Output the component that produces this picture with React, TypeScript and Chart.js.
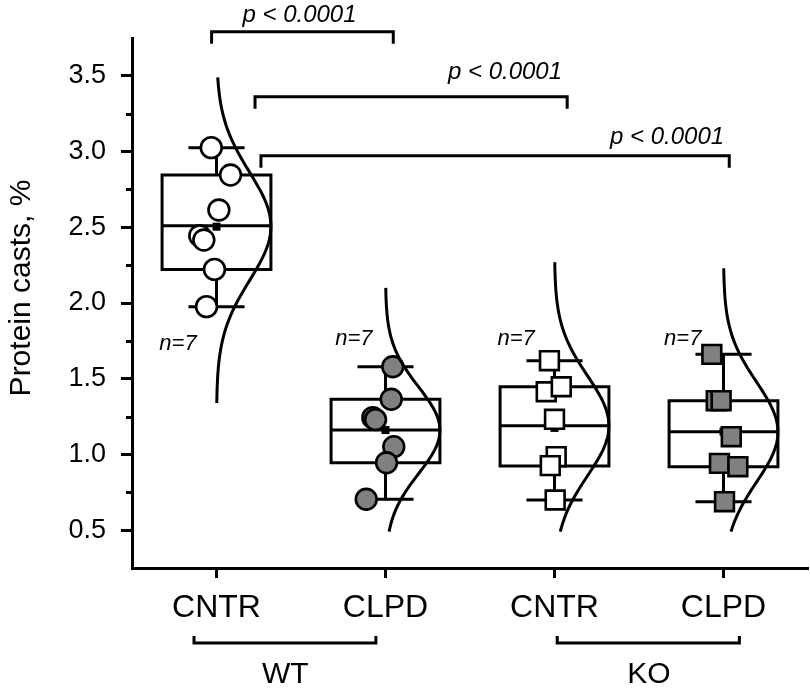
import React, { useEffect, useRef } from "react";
import { Chart, registerables } from "chart.js";

Chart.register(...registerables);

// ---------- data ----------
const CATEGORIES = ["CNTR", "CLPD", "CNTR", "CLPD"];
const GROUPS = ["WT", "KO"];
const Y_TICKS = [0.5, 1.0, 1.5, 2.0, 2.5, 3.0, 3.5];
const Y_MINOR_TICKS = [0.75, 1.25, 1.75, 2.25, 2.75, 3.25];

const WT_CNTR_VALUES = [3.026, 2.845, 2.614, 2.444, 2.416, 2.222, 1.976];
const WT_CNTR_JITTER = [-0.031, 0.083, 0.014, -0.099, -0.075, -0.012, -0.059];
const WT_CLPD_VALUES = [1.579, 1.364, 1.243, 1.23, 1.051, 0.945, 0.704];
const WT_CLPD_JITTER = [0.043, 0.034, -0.075, -0.059, 0.049, 0.006, -0.114];
const KO_CNTR_VALUES = [1.619, 1.414, 1.447, 1.232, 0.985, 0.926, 0.699];
const KO_CNTR_JITTER = [-0.03, -0.049, 0.04, 0.0, 0.01, -0.025, 0.004];
const KO_CLPD_VALUES = [1.661, 1.355, 1.355, 1.117, 0.941, 0.919, 0.688];
const KO_CLPD_JITTER = [-0.069, -0.043, -0.014, 0.046, -0.024, 0.085, 0.006];

const BOX_MIN = [1.976, 0.704, 0.699, 0.688];
const BOX_Q1 = [2.222, 0.945, 0.924, 0.919];
const BOX_MEDIAN = [2.51, 1.161, 1.19, 1.15];
const BOX_Q3 = [2.845, 1.364, 1.447, 1.355];
const BOX_MAX = [3.026, 1.579, 1.619, 1.661];
const BOX_MEAN = [2.504, 1.161, 1.175, 1.15];

const CURVE_LOW = [1.34, 0.49, 0.49, 0.49];
const CURVE_HIGH = [3.49, 2.1, 2.27, 2.23];

const N_LABELS = ["n=7", "n=7", "n=7", "n=7"];
const N_LABEL_X = [0.772, 1.813, 2.773, 3.759];
const N_LABEL_Y = [1.69, 1.72, 1.72, 1.72];

const P_LABELS = ["p < 0.0001", "p < 0.0001", "p < 0.0001"];
const BRACKET_FROM = [0.971, 1.228, 1.263];
const BRACKET_TO = [2.046, 3.075, 4.034];
const BRACKET_Y = [3.792, 3.362, 2.973];
const P_LABEL_X = [1.491, 2.707, 3.666];
const P_LABEL_Y = [3.858, 3.479, 3.05];

const GROUP_FROM = [0.867, 3.016];
const GROUP_TO = [1.943, 4.094];
const GROUP_LABEL_X = [1.407, 3.559];

const Y_TITLE = "Protein casts, %";

// ---------- style ----------
const FONT = "'Liberation Sans', Arial, Helvetica, sans-serif";
const GRAY = "#808080";
const BOX_HALF = 0.322;
const CAP_HALF = 0.166;

const GROUP_SERIES = [
  { values: WT_CNTR_VALUES, jitter: WT_CNTR_JITTER, style: "circle", fill: "#ffffff" },
  { values: WT_CLPD_VALUES, jitter: WT_CLPD_JITTER, style: "circle", fill: GRAY },
  { values: KO_CNTR_VALUES, jitter: KO_CNTR_JITTER, style: "rect", fill: "#ffffff" },
  { values: KO_CLPD_VALUES, jitter: KO_CLPD_JITTER, style: "rect", fill: GRAY },
];

function meanOf(a: number[]) {
  return a.reduce((s, v) => s + v, 0) / a.length;
}
function sdOf(a: number[]) {
  const m = meanOf(a);
  return Math.sqrt(a.reduce((s, v) => s + (v - m) * (v - m), 0) / (a.length - 1));
}

const bgPlugin = {
  id: "bg",
  beforeDraw(chart: any) {
    const { ctx, width, height } = chart;
    ctx.save();
    ctx.fillStyle = "#ffffff";
    ctx.fillRect(0, 0, width, height);
    ctx.restore();
  },
};

const boxPlugin = {
  id: "boxes",
  beforeDatasetsDraw(chart: any) {
    const { ctx } = chart;
    const x = chart.scales.x;
    const y = chart.scales.y;
    ctx.save();
    ctx.strokeStyle = "#000";
    ctx.lineWidth = 3;
    for (let i = 0; i < CATEGORIES.length; i++) {
      const c = i + 1;
      const cx = x.getPixelForValue(c);
      const left = x.getPixelForValue(c - BOX_HALF);
      const right = x.getPixelForValue(c + BOX_HALF);
      const capL = x.getPixelForValue(c - CAP_HALF);
      const capR = x.getPixelForValue(c + CAP_HALF);
      const yMin = y.getPixelForValue(BOX_MIN[i]);
      const yQ1 = y.getPixelForValue(BOX_Q1[i]);
      const yMed = y.getPixelForValue(BOX_MEDIAN[i]);
      const yQ3 = y.getPixelForValue(BOX_Q3[i]);
      const yMax = y.getPixelForValue(BOX_MAX[i]);
      const yMean = y.getPixelForValue(BOX_MEAN[i]);
      ctx.beginPath();
      ctx.moveTo(cx, yMax);
      ctx.lineTo(cx, yQ3);
      ctx.moveTo(cx, yQ1);
      ctx.lineTo(cx, yMin);
      ctx.moveTo(capL, yMax);
      ctx.lineTo(capR, yMax);
      ctx.moveTo(capL, yMin);
      ctx.lineTo(capR, yMin);
      ctx.stroke();
      ctx.beginPath();
      ctx.rect(left, yQ3, right - left, yQ1 - yQ3);
      ctx.stroke();
      ctx.beginPath();
      ctx.moveTo(left, yMed);
      ctx.lineTo(right, yMed);
      ctx.stroke();
      ctx.fillStyle = "#000";
      ctx.fillRect(cx - 4, yMean - 4, 8, 8);
    }
    ctx.restore();
  },
};

const annotationPlugin = {
  id: "annotations",
  afterDatasetsDraw(chart: any) {
    const { ctx, chartArea } = chart;
    const x = chart.scales.x;
    const y = chart.scales.y;
    ctx.save();
    ctx.strokeStyle = "#000";
    ctx.fillStyle = "#000";

    // normal curves
    ctx.lineWidth = 3;
    for (let i = 0; i < CATEGORIES.length; i++) {
      const vals = GROUP_SERIES[i].values;
      const mu = meanOf(vals);
      const sd = sdOf(vals);
      const c = i + 1;
      ctx.beginPath();
      const steps = 120;
      for (let k = 0; k <= steps; k++) {
        const v = CURVE_HIGH[i] - ((CURVE_HIGH[i] - CURVE_LOW[i]) * k) / steps;
        const z = (v - mu) / sd;
        const xv = c + BOX_HALF * Math.exp(-0.5 * z * z);
        const px = x.getPixelForValue(xv);
        const py = y.getPixelForValue(v);
        if (k === 0) ctx.moveTo(px, py);
        else ctx.lineTo(px, py);
      }
      ctx.stroke();
    }

    // minor y ticks
    ctx.lineWidth = 3;
    ctx.beginPath();
    for (const t of Y_MINOR_TICKS) {
      const py = Math.round(y.getPixelForValue(t)) + 0.5;
      ctx.moveTo(chartArea.left - 6, py);
      ctx.lineTo(chartArea.left, py);
    }
    ctx.stroke();

    // significance brackets
    ctx.lineWidth = 3;
    for (let i = 0; i < P_LABELS.length; i++) {
      const x1 = x.getPixelForValue(BRACKET_FROM[i]);
      const x2 = x.getPixelForValue(BRACKET_TO[i]);
      const by = y.getPixelForValue(BRACKET_Y[i]);
      ctx.beginPath();
      ctx.moveTo(x1, by + 12);
      ctx.lineTo(x1, by);
      ctx.lineTo(x2, by);
      ctx.lineTo(x2, by + 12);
      ctx.stroke();
      ctx.font = `italic 24px ${FONT}`;
      ctx.textAlign = "center";
      ctx.textBaseline = "alphabetic";
      ctx.fillText(P_LABELS[i], x.getPixelForValue(P_LABEL_X[i]), y.getPixelForValue(P_LABEL_Y[i]));
    }

    // n labels
    ctx.font = `italic 22px ${FONT}`;
    ctx.textAlign = "center";
    ctx.textBaseline = "alphabetic";
    for (let i = 0; i < N_LABELS.length; i++) {
      ctx.fillText(N_LABELS[i], x.getPixelForValue(N_LABEL_X[i]), y.getPixelForValue(N_LABEL_Y[i]));
    }

    // group brackets under the axis
    const gy = chartArea.bottom + 75;
    ctx.lineWidth = 3;
    for (let g = 0; g < GROUPS.length; g++) {
      const x1 = x.getPixelForValue(GROUP_FROM[g]);
      const x2 = x.getPixelForValue(GROUP_TO[g]);
      ctx.beginPath();
      ctx.moveTo(x1, gy - 7);
      ctx.lineTo(x1, gy);
      ctx.lineTo(x2, gy);
      ctx.lineTo(x2, gy - 7);
      ctx.stroke();
      ctx.font = `30px ${FONT}`;
      ctx.textAlign = "center";
      ctx.textBaseline = "alphabetic";
      ctx.fillText(GROUPS[g], x.getPixelForValue(GROUP_LABEL_X[g]), chartArea.bottom + 115);
    }

    // y title
    ctx.save();
    ctx.translate(22, (chartArea.top + chartArea.bottom) / 2 - 15);
    ctx.rotate(-Math.PI / 2);
    ctx.font = `30px ${FONT}`;
    ctx.textAlign = "center";
    ctx.textBaseline = "middle";
    ctx.fillText(Y_TITLE, 0, 0);
    ctx.restore();

    ctx.restore();
  },
};

export default function App() {
  const canvasRef = useRef<HTMLCanvasElement | null>(null);

  useEffect(() => {
    const canvas = canvasRef.current;
    if (!canvas) return;
    const datasets = GROUP_SERIES.map((g, i) => ({
      label: CATEGORIES[i],
      data: g.values.map((v, k) => ({ x: i + 1 + g.jitter[k], y: v })),
      pointStyle: g.style,
      pointRadius: g.style === "rect" ? 13.3 : 10.4,
      pointBackgroundColor: g.fill,
      pointBorderColor: "#000",
      pointBorderWidth: 2.6,
      showLine: false,
    }));
    const chart = new Chart(canvas, {
      type: "scatter",
      data: { datasets: datasets as any },
      options: {
        animation: false,
        responsive: false,
        devicePixelRatio: 1,
        layout: { autoPadding: false, padding: { top: 38, right: 2, left: 0, bottom: 0 } },
        plugins: {
          legend: { display: false },
          tooltip: { enabled: false },
        },
        scales: {
          x: {
            type: "linear",
            min: 0.5,
            max: 4.5,
            afterBuildTicks: (s: any) => {
              s.ticks = CATEGORIES.map((_, i) => ({ value: i + 1 }));
            },
            afterFit: (s: any) => {
              s.height = 129;
              s.paddingLeft = 0;
              s.paddingRight = 0;
            },
            ticks: {
              callback: (_v: any, idx: number) => CATEGORIES[idx],
              font: { family: FONT, size: 32 },
              color: "#000",
              padding: 11,
              maxRotation: 0,
              autoSkip: false,
            },
            grid: {
              drawOnChartArea: false,
              drawTicks: true,
              tickLength: 10,
              tickWidth: 3,
              tickColor: "#000",
            },
            border: { display: true, width: 3, color: "#000" },
          },
          y: {
            type: "linear",
            min: 0.25,
            max: 3.75,
            afterBuildTicks: (s: any) => {
              s.ticks = Y_TICKS.map((v) => ({ value: v }));
            },
            afterFit: (s: any) => {
              s.width = 132;
              s.paddingTop = 0;
              s.paddingBottom = 0;
            },
            ticks: {
              callback: (v: any) => Number(v).toFixed(1),
              font: { family: FONT, size: 27 },
              color: "#000",
              padding: 15,
            },
            grid: {
              drawOnChartArea: false,
              drawTicks: true,
              tickLength: 11,
              tickWidth: 3,
              tickColor: "#000",
            },
            border: { display: true, width: 3, color: "#000" },
          },
        },
      },
      plugins: [bgPlugin, boxPlugin, annotationPlugin],
    });
    return () => chart.destroy();
  }, []);

  return (
    <div style={{ position: "absolute", left: 0, top: 0, width: 810, height: 697 }}>
      <canvas ref={canvasRef} width={810} height={697} style={{ display: "block" }} />
    </div>
  );
}
